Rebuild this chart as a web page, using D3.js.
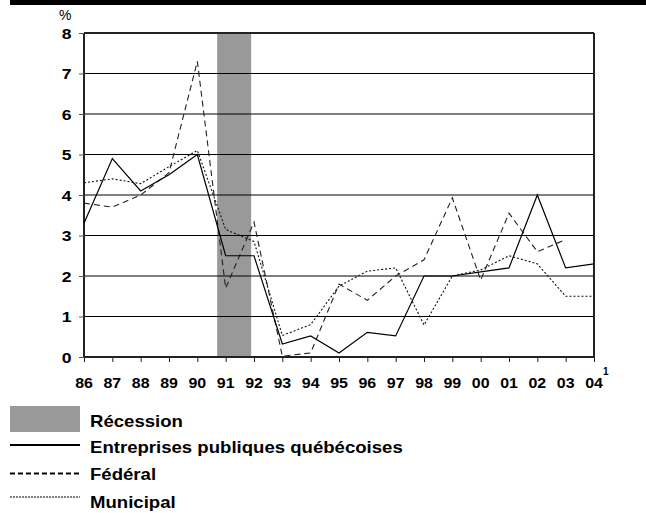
<!DOCTYPE html>
<html><head><meta charset="utf-8">
<script src="https://cdn.jsdelivr.net/npm/d3@7"></script>
<style>body{margin:0;background:#fff}svg{display:block}</style>
</head><body>
<script>
const years = ["86","87","88","89","90","91","92","93","94","95","96","97","98","99","00","01","02","03","04"];
const entreprises = [3.3,4.9,4.1,4.5,5.0,2.5,2.5,0.32,0.52,0.1,0.61,0.52,2.0,2.0,2.1,2.2,4.0,2.2,2.3];
const federal = [3.8,3.7,4.0,4.55,7.3,1.7,3.33,0.02,0.1,1.8,1.4,2.0,2.4,3.93,1.9,3.55,2.6,2.9,null];
const municipal = [4.3,4.4,4.28,4.7,5.1,3.15,2.85,0.53,0.8,1.75,2.12,2.2,0.79,2.0,2.15,2.5,2.3,1.5,1.5];
const yTicks = [0,1,2,3,4,5,6,7,8];
const recession = [4.7, 5.9]; // position in year-index units (≈ mid-1990 to late 1991)
const legendItems = ["Récession","Entreprises publiques québécoises","Fédéral","Municipal"];

const W = 646, H = 513;
const FONT = "'Liberation Sans', Arial, Helvetica, sans-serif";
const SX = 1.14;
const svg = d3.select("body").append("svg").attr("width", W).attr("height", H);

// top black band
svg.append("rect").attr("x", 10).attr("y", 0).attr("width", W - 10).attr("height", 5).attr("fill", "#000");

const x = d3.scaleLinear().domain([0, years.length - 1]).range([84, 594]);
const y = d3.scaleLinear().domain([0, 8]).range([357, 33]);

function txt(g, tx, ty, s, size, weight, anchor, sx) {
  return g.append("text").attr("transform", `translate(${tx},${ty}) scale(${sx},1)`)
    .attr("font-family", FONT).attr("font-size", size).attr("font-weight", weight)
    .attr("text-anchor", anchor).attr("fill", "#000").text(s);
}

// recession band
svg.append("rect").attr("x", x(recession[0])).attr("y", y(8))
  .attr("width", x(recession[1]) - x(recession[0])).attr("height", y(0) - y(8)).attr("fill", "#999");

// gridlines
svg.append("g").selectAll("line").data(yTicks.filter(d => d > 0 && d < 8)).join("line")
  .attr("x1", x(0)).attr("x2", x(18)).attr("y1", d => y(d)).attr("y2", d => y(d))
  .attr("stroke", "#000").attr("stroke-width", 1);

// frame
svg.append("line").attr("x1", x(0)).attr("x2", x(18)).attr("y1", y(8)).attr("y2", y(8)).attr("stroke", "#222").attr("stroke-width", 2);
svg.append("line").attr("x1", x(18)).attr("x2", x(18)).attr("y1", y(8)).attr("y2", y(0)).attr("stroke", "#222").attr("stroke-width", 2);

// axes
const xAxis = svg.append("g").attr("transform", `translate(0,${y(0)})`)
  .call(d3.axisBottom(x).tickValues(d3.range(years.length)).tickSize(5).tickFormat(""));
xAxis.select(".domain").attr("stroke", "#222").attr("stroke-width", 2).attr("d", `M${x(0)},0H${x(18)}`);
xAxis.selectAll(".tick line").attr("stroke", "#222").attr("stroke-width", 1);

const yAxis = svg.append("g").attr("transform", `translate(${x(0)},0)`)
  .call(d3.axisLeft(y).tickValues(yTicks).tickSize(5).tickFormat(""));
yAxis.select(".domain").attr("stroke", "#222").attr("stroke-width", 2).attr("d", `M0,${y(8)}V${y(0)}`);
yAxis.selectAll(".tick line").attr("stroke", "#555").attr("stroke-width", 1);

// tick labels
const labels = svg.append("g");
yTicks.forEach(v => txt(labels, 71.5, y(v) + 5.5, String(v), 15.4, "bold", "end", SX));
years.forEach((s, i) => txt(labels, x(i), 387.7, s, 14, "bold", "middle", SX));
txt(labels, 603, 375, "1", 10, "bold", "start", 1);
txt(labels, 59, 20, "%", 14, "normal", "start", 1);

// series
const line = d3.line().defined(d => d != null).x((d, i) => x(i)).y(d => y(d));
const lineG = svg.append("g").attr("fill", "none");
lineG.append("path").datum(municipal).attr("d", line).attr("stroke", "#111").attr("stroke-width", 1.1).attr("stroke-dasharray", "2,2");
lineG.append("path").datum(federal).attr("d", line).attr("stroke", "#222").attr("stroke-width", 1.1).attr("stroke-dasharray", "6,4");
lineG.append("path").datum(entreprises).attr("d", line).attr("stroke", "#000").attr("stroke-width", 1.2);

// legend
const lg = svg.append("g");
lg.append("rect").attr("x", 10).attr("y", 406).attr("width", 70).attr("height", 26).attr("fill", "#999");
lg.append("line").attr("x1", 10).attr("x2", 80).attr("y1", 445).attr("y2", 445).attr("stroke", "#000").attr("stroke-width", 2);
lg.append("line").attr("x1", 10).attr("x2", 80).attr("y1", 473.5).attr("y2", 473.5).attr("stroke", "#000").attr("stroke-width", 2).attr("stroke-dasharray", "5,3");
lg.append("line").attr("x1", 10).attr("x2", 80).attr("y1", 497).attr("y2", 497).attr("stroke", "#000").attr("stroke-width", 1).attr("stroke-dasharray", "2,1");
const ly = [427, 453, 479.5, 507.5];
legendItems.forEach((s, i) => txt(lg, 90, ly[i], s, 16.3, "bold", "start", SX));
</script>
</body></html>
